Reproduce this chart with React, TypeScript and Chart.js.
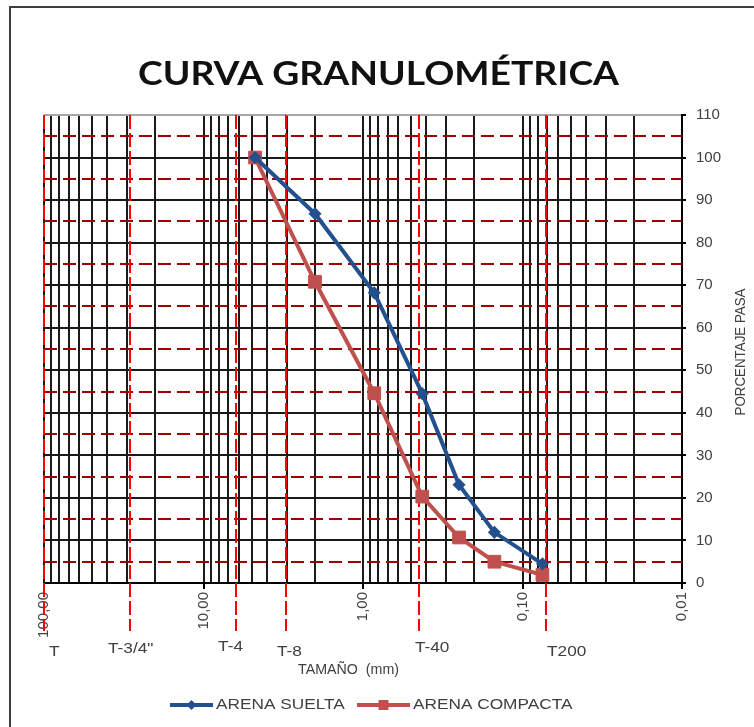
import React, { useEffect, useRef } from 'react';
import { Chart, registerables } from 'chart.js';

Chart.register(...registerables);

// ---------- data ----------
const sieveSizesMm = [4.75, 2.0, 0.85, 0.425, 0.25, 0.15, 0.075];
const arenaSueltaPasa = [100, 86.8, 68.2, 44.5, 23.1, 11.9, 4.5];
const arenaCompactaPasa = [100, 70.8, 44.6, 20.3, 10.7, 5.0, 1.9];
const seriesNames = ['ARENA SUELTA', 'ARENA COMPACTA'];

const xDecadeValues = [100, 10, 1, 0.1, 0.01];
const xDecadeLabels = ['100,00', '10,00', '1,00', '0,10', '0,01'];
const yTickValues = [0, 10, 20, 30, 40, 50, 60, 70, 80, 90, 100, 110];
const yHalfLevels = [5, 15, 25, 35, 45, 55, 65, 75, 85, 95, 105];

const sieveMarkNames = ['T', 'T-3/4"', 'T-4', 'T-8', 'T-40', 'T200'];
const sieveMarkSizes = [100, 28.9, 6.25, 3.04, 0.446, 0.0712];

const chartTitle = 'CURVA GRANULOMÉTRICA';
const xAxisTitle = 'TAMAÑO  (mm)';
const yAxisTitle = 'PORCENTAJE PASA';

// ---------- styles ----------
const BLUE = '#23508F';
const RED = '#C0504D';
const TEXT = '#404040';
const GRID = '#1a1a1a';
const FONT = "'Liberation Sans', Arial, sans-serif";
const STRETCH = 1.15;
const sieveLabelDx = [5, -22, -18, -9, -4, 1];
const sieveLabelY = [652, 649, 647, 652, 648, 652];

// log grid positions (1..9 per decade)
const gridValues: number[] = [];
[0.01, 0.1, 1, 10].forEach((d) => {
  for (let m = 1; m <= 9; m++) gridValues.push(Number((m * d).toPrecision(6)));
});
gridValues.push(100);

const isDecade = (v: number) => xDecadeValues.some((d) => Math.abs(v - d) / d < 1e-6);
const decadeLabel = (v: number) => {
  const i = xDecadeValues.findIndex((d) => Math.abs(v - d) / d < 1e-6);
  return i >= 0 ? xDecadeLabels[i] : '';
};

function drawText(
  ctx: CanvasRenderingContext2D,
  text: string,
  x: number,
  y: number,
  font: string,
  color: string,
  opts: { sx?: number; width?: number; align?: 'left' | 'center'; rot?: number; baseline?: CanvasTextBaseline } = {}
) {
  ctx.save();
  ctx.font = font;
  ctx.fillStyle = color;
  ctx.textAlign = 'left';
  ctx.textBaseline = opts.baseline || 'middle';
  const natural = ctx.measureText(text).width;
  const sx = opts.width ? opts.width / natural : opts.sx || 1;
  const w = natural * sx;
  ctx.translate(x, y);
  if (opts.rot) ctx.rotate(opts.rot);
  if (opts.align === 'center') ctx.translate(-w / 2, 0);
  ctx.scale(sx, 1);
  ctx.fillText(text, 0, 0);
  ctx.restore();
}

const decorPlugin = {
  id: 'decor',
  beforeDraw(chart: any) {
    const ctx = chart.ctx as CanvasRenderingContext2D;
    ctx.save();
    ctx.fillStyle = '#ffffff';
    ctx.fillRect(0, 0, chart.width, chart.height);
    ctx.strokeStyle = '#3f3f3f';
    ctx.lineWidth = 2;
    ctx.strokeRect(10, 7, chart.width + 40, chart.height + 40);
    ctx.restore();
  },
  beforeDatasetsDraw(chart: any) {
    const ctx = chart.ctx as CanvasRenderingContext2D;
    const { left, right, top, bottom } = chart.chartArea;
    const xs = chart.scales.x;
    const ys = chart.scales.y;
    ctx.save();
    // dark red dashed half levels
    ctx.strokeStyle = '#A00000';
    ctx.lineWidth = 2;
    ctx.setLineDash([13, 6]);
    yHalfLevels.forEach((v) => {
      const py = Math.round(ys.getPixelForValue(v));
      ctx.beginPath();
      ctx.moveTo(left, py);
      ctx.lineTo(right, py);
      ctx.stroke();
    });
    // red dashed sieve lines
    ctx.strokeStyle = '#FF0000';
    ctx.setLineDash([14, 4]);
    sieveMarkSizes.forEach((v) => {
      const px = Math.round(xs.getPixelForValue(v));
      ctx.beginPath();
      ctx.moveTo(px, top);
      ctx.lineTo(px, bottom + 48);
      ctx.stroke();
    });
    ctx.restore();
  },
  afterDraw(chart: any) {
    const ctx = chart.ctx as CanvasRenderingContext2D;
    const xs = chart.scales.x;
    // title
    drawText(ctx, chartTitle, 138, 85, `bold 32px Lato, 'Open Sans', sans-serif`, '#111', {
      width: 481,
      baseline: 'alphabetic',
    });
    // sieve labels
    sieveMarkNames.forEach((name, i) => {
      const px = xs.getPixelForValue(sieveMarkSizes[i]);
      drawText(ctx, name, px + sieveLabelDx[i], sieveLabelY[i], `15px ${FONT}`, TEXT, { sx: STRETCH });
    });
    // x axis title
    drawText(ctx, xAxisTitle, 298, 670, `14px ${FONT}`, TEXT, { width: 101 });
    // y axis title
    drawText(ctx, yAxisTitle, 741, 352, `14px ${FONT}`, TEXT, {
      width: 127,
      align: 'center',
      rot: -Math.PI / 2,
    });
    // legend
    const ly = 705;
    const items = [
      { x0: 170, x1: 213, tx: 216, color: BLUE, marker: 'diamond' },
      { x0: 357, x1: 410, tx: 413, color: RED, marker: 'square' },
    ];
    items.forEach((it, i) => {
      ctx.save();
      ctx.strokeStyle = it.color;
      ctx.fillStyle = it.color;
      ctx.lineWidth = 4;
      ctx.beginPath();
      ctx.moveTo(it.x0, ly);
      ctx.lineTo(it.x1, ly);
      ctx.stroke();
      const cx = (it.x0 + it.x1) / 2;
      ctx.beginPath();
      if (it.marker === 'diamond') {
        ctx.moveTo(cx, ly - 5);
        ctx.lineTo(cx + 5, ly);
        ctx.lineTo(cx, ly + 5);
        ctx.lineTo(cx - 5, ly);
        ctx.closePath();
        ctx.fill();
      } else {
        ctx.fillRect(cx - 5, ly - 5, 10, 10);
      }
      ctx.restore();
      const label = chart.data.datasets[i].label as string;
      drawText(ctx, label, it.tx, ly, `15px ${FONT}`, TEXT, { sx: STRETCH });
    });
  },
};

export default function App() {
  const canvasRef = useRef<HTMLCanvasElement | null>(null);

  useEffect(() => {
    document.body.style.margin = '0';
    document.body.style.background = '#ffffff';
    const canvas = canvasRef.current;
    if (!canvas) return;

    const chart = new Chart(canvas, {
      type: 'line',
      data: {
        datasets: [
          {
            label: seriesNames[0],
            data: sieveSizesMm.map((x, i) => ({ x, y: arenaSueltaPasa[i] })),
            borderColor: BLUE,
            backgroundColor: BLUE,
            borderWidth: 4,
            pointStyle: 'rectRot',
            pointRadius: 5.5,
            pointBorderWidth: 1.5,
            pointBorderColor: BLUE,
            pointBackgroundColor: BLUE,
            tension: 0,
          },
          {
            label: seriesNames[1],
            data: sieveSizesMm.map((x, i) => ({ x, y: arenaCompactaPasa[i] })),
            borderColor: RED,
            backgroundColor: RED,
            borderWidth: 4,
            pointStyle: 'rect',
            pointRadius: 9,
            pointBorderWidth: 1,
            pointBorderColor: RED,
            pointBackgroundColor: RED,
            tension: 0,
          },
        ],
      },
      options: {
        responsive: false,
        animation: false,
        devicePixelRatio: 1,
        layout: { padding: { left: 44, top: 115, right: 0, bottom: 0 } },
        plugins: {
          legend: { display: false },
          title: { display: false },
          tooltip: { enabled: false },
        },
        scales: {
          x: {
            type: 'logarithmic',
            reverse: true,
            min: 0.01,
            max: 100,
            position: 'bottom',
            afterBuildTicks: (s: any) => {
              s.ticks = gridValues.map((v) => ({ value: v }));
            },
            afterFit: (s: any) => {
              s.height = 144;
            },
            grid: {
              color: GRID,
              lineWidth: 2,
              drawTicks: true,
              tickLength: 6,
              tickColor: (c: any) => (c.tick && isDecade(c.tick.value) ? '#000' : 'rgba(0,0,0,0)'),
            },
            border: { color: '#000', width: 2 },
            ticks: {
              autoSkip: false,
              minRotation: 90,
              maxRotation: 90,
              padding: 3,
              color: TEXT,
              font: { family: FONT, size: 15 },
              callback: (v: any) => decadeLabel(Number(v)),
            },
          },
          y: {
            position: 'right',
            min: 0,
            max: 110,
            afterBuildTicks: (s: any) => {
              s.ticks = yTickValues.map((v) => ({ value: v }));
            },
            afterFit: (s: any) => {
              s.width = 72;
            },
            grid: {
              color: (c: any) => (c.tick && c.tick.value === 110 ? '#a6a6a6' : GRID),
              lineWidth: 2,
              drawTicks: true,
              tickLength: 4,
              tickColor: '#000',
            },
            border: { color: '#000', width: 2 },
            ticks: {
              padding: 10,
              color: TEXT,
              font: { family: FONT, size: 15 },
              callback: (v: any) => String(v),
            },
          },
        },
      } as any,
      plugins: [decorPlugin],
    });

    return () => chart.destroy();
  }, []);

  return <canvas ref={canvasRef} width={754} height={727} style={{ display: 'block' }} />;
}
